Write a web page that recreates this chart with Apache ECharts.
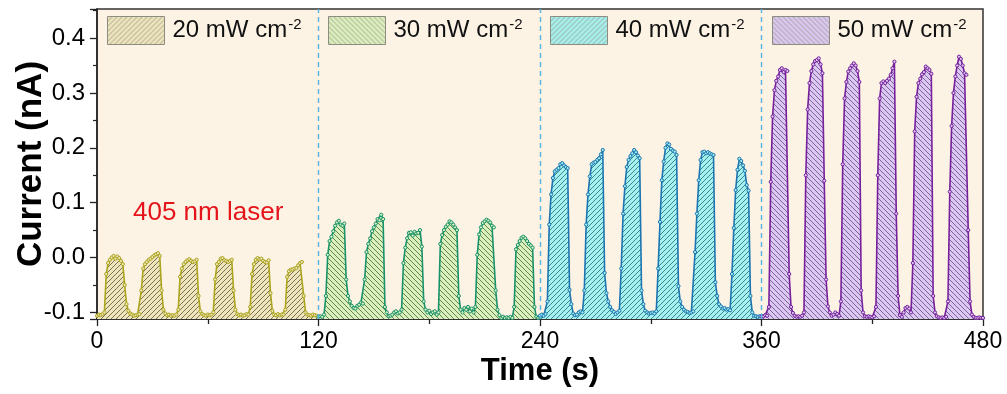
<!DOCTYPE html>
<html><head><meta charset="utf-8">
<script src="https://cdn.jsdelivr.net/npm/echarts@6/dist/echarts.min.js"></script>
<style>html,body{margin:0;padding:0;background:#fff}#c{width:1007px;height:394px}</style>
</head><body><div id="c"></div>
<script>
// ---- data ----
const seriesNames = ['20 mW cm-2', '30 mW cm-2', '40 mW cm-2', '50 mW cm-2'];
const startTimes = [0, 120, 240, 360];   // s, each segment sampled every 1 s
const sampleStep = 1;
const xTickValues = [0, 120, 240, 360, 480];
const yTickLabels = ['-0.1', '0.0', '0.1', '0.2', '0.3', '0.4'];
const dividerTimes = [120, 240, 360];
const annotationText = '405 nm laser';

const current20 = [
 -0.106,-0.104,-0.105,-0.103,-0.100,-0.030,-0.010,-0.004,0.000,0.003,
 -0.002,0.002,-0.001,-0.006,-0.012,-0.050,-0.085,-0.097,-0.102,-0.104,
 -0.106,-0.105,-0.104,-0.103,-0.060,-0.020,-0.012,-0.008,-0.004,-0.002,
 0.001,0.004,0.006,0.008,0.003,-0.060,-0.095,-0.102,-0.105,-0.104,
 -0.106,-0.105,-0.106,-0.104,-0.095,-0.035,-0.020,-0.012,-0.008,-0.005,
 -0.003,-0.006,-0.008,-0.007,-0.004,-0.070,-0.098,-0.103,-0.105,-0.106,
 -0.104,-0.105,-0.104,-0.100,-0.040,-0.012,-0.008,-0.002,-0.001,-0.005,
 -0.006,-0.008,-0.006,-0.004,-0.060,-0.095,-0.103,-0.105,-0.104,-0.106,
 -0.105,-0.103,-0.104,-0.090,-0.030,-0.012,-0.004,-0.001,-0.003,-0.002,
 -0.006,-0.008,-0.009,-0.005,-0.065,-0.097,-0.104,-0.105,-0.103,-0.105,
 -0.104,-0.104,-0.095,-0.035,-0.025,-0.022,-0.022,-0.020,-0.019,-0.014,
 -0.010,-0.008,-0.070,-0.100,-0.104,-0.105,-0.106,-0.104,-0.105,-0.106,
 -0.107
];
const current30 = [
 -0.108,-0.107,-0.108,-0.104,-0.070,0.005,0.030,0.038,0.048,0.058,
 0.064,0.067,0.060,0.058,0.062,-0.040,-0.070,-0.080,-0.088,-0.092,
 -0.093,-0.088,-0.086,-0.082,-0.084,-0.040,0.010,0.025,0.035,0.048,
 0.055,0.062,0.070,0.068,0.078,0.070,-0.090,-0.100,-0.107,-0.106,
 -0.104,-0.100,-0.098,-0.102,-0.100,-0.095,-0.010,0.018,0.035,0.045,
 0.046,0.040,0.047,0.044,0.045,0.050,0.020,-0.080,-0.095,-0.100,
 -0.097,-0.103,-0.100,-0.098,-0.104,-0.100,0.025,0.041,0.050,0.056,
 0.060,0.066,0.064,0.060,0.055,0.050,-0.070,-0.095,-0.100,-0.092,
 -0.095,-0.090,-0.098,-0.093,-0.100,-0.090,0.005,0.042,0.055,0.063,
 0.066,0.069,0.067,0.064,0.058,0.055,-0.060,-0.095,-0.105,-0.110,
 -0.108,-0.110,-0.109,-0.110,-0.108,-0.110,-0.090,0.015,0.023,0.030,
 0.036,0.038,0.035,0.030,0.025,0.022,0.018,-0.090,-0.108,-0.110,
 -0.109
];
const current40 = [
 -0.106,-0.104,-0.106,-0.103,-0.080,0.060,0.115,0.145,0.157,0.160,
 0.163,0.170,0.172,0.168,0.165,0.163,-0.059,-0.085,-0.102,-0.105,
 -0.104,-0.100,-0.098,-0.100,-0.060,0.060,0.115,0.148,0.170,0.173,
 0.174,0.178,0.181,0.188,0.196,-0.028,-0.065,-0.080,-0.090,-0.096,
 -0.099,-0.103,-0.100,-0.097,-0.020,0.080,0.130,0.165,0.178,0.185,
 0.190,0.196,0.192,0.186,0.181,-0.060,-0.085,-0.097,-0.100,-0.102,
 -0.101,-0.100,-0.102,-0.098,-0.020,0.065,0.141,0.175,0.200,0.208,
 0.206,0.198,0.195,0.193,0.187,-0.052,-0.080,-0.090,-0.095,-0.098,
 -0.099,-0.101,-0.100,-0.098,0.010,0.080,0.141,0.178,0.192,0.193,
 0.190,0.192,0.190,0.188,0.187,-0.045,-0.070,-0.085,-0.089,-0.093,
 -0.092,-0.095,-0.094,-0.096,-0.030,0.054,0.123,0.160,0.180,0.176,
 0.168,0.158,0.132,0.122,-0.070,-0.100,-0.106,-0.107,-0.108,-0.107,
 -0.106
];
const current50 = [
 -0.108,-0.107,-0.105,-0.106,-0.090,0.138,0.257,0.305,0.322,0.330,
 0.342,0.345,0.338,0.342,0.340,-0.030,-0.090,-0.101,-0.106,-0.108,
 -0.107,-0.108,-0.106,-0.100,0.150,0.270,0.318,0.340,0.352,0.358,
 0.360,0.363,0.352,0.336,0.140,-0.040,-0.089,-0.100,-0.106,-0.104,
 -0.100,-0.103,-0.106,-0.080,0.170,0.290,0.320,0.339,0.345,0.350,
 0.354,0.350,0.340,0.320,-0.060,-0.100,-0.107,-0.108,-0.107,-0.108,
 -0.109,-0.107,-0.090,0.150,0.290,0.318,0.321,0.318,0.322,0.326,
 0.333,0.345,0.357,0.080,-0.070,-0.105,-0.108,-0.100,-0.092,-0.090,
 -0.093,-0.100,-0.010,0.230,0.293,0.318,0.326,0.334,0.338,0.348,
 0.345,0.342,0.335,-0.070,-0.100,-0.107,-0.109,-0.110,-0.109,-0.110,
 -0.108,-0.080,0.120,0.240,0.300,0.330,0.350,0.366,0.362,0.350,
 0.336,0.333,0.050,-0.080,-0.104,-0.108,-0.110,-0.110,-0.109,-0.110,
 -0.110
];
const currents = [current20, current30, current40, current50];

// ---- styles ----
const lineColors = ['#ABA51C', '#17926A', '#1C74B0', '#76209C'];
const fillColors = ['#EFE5BC', '#DCF0BE', '#A6F1EF', '#DBC7F1'];
const hatchColors = ['#6E6446', '#4F7A43', '#2B7C86', '#6F5A8F'];
const hatchDirs = [1, -1, 1, -1];
const legendLefts = [107, 328, 550, 772];

function hatch(bg, fg, dir) {
  const s = 5, c = document.createElement('canvas');
  c.width = s; c.height = s;
  const g = c.getContext('2d');
  g.fillStyle = bg; g.fillRect(0, 0, s, s);
  g.strokeStyle = fg; g.lineWidth = 0.9; g.beginPath();
  for (let k = -1; k <= 1; k++) {
    if (dir > 0) { g.moveTo(k * s, s); g.lineTo(k * s + s, 0); }
    else { g.moveTo(k * s, 0); g.lineTo(k * s + s, s); }
  }
  g.stroke();
  return { image: c, repeat: 'repeat' };
}
const patterns = fillColors.map((f, i) => hatch(f, hatchColors[i], hatchDirs[i]));
const legendPatterns = fillColors.map((f, i) => hatch(f, '#9a9a86', hatchDirs[i]));

const chart = echarts.init(document.getElementById('c'), null, { renderer: 'canvas' });

const series = seriesNames.map((name, i) => ({
  name,
  type: 'line',
  data: currents[i].map((v, k) => [startTimes[i] + k * sampleStep, v]),
  symbol: 'circle',
  symbolSize: 3.2,
  showAllSymbol: true,
  itemStyle: { color: fillColors[i], borderColor: lineColors[i], borderWidth: 1 },
  lineStyle: { color: lineColors[i], width: 1.6 },
  areaStyle: { color: patterns[i], origin: 'start', opacity: 1 },
  z: 3,
  animation: false,
  markLine: i === 0 ? {
    silent: true, symbol: ['none', 'none'], animation: false,
    label: { show: false },
    lineStyle: { color: '#56B4E6', type: [5, 4], width: 1.4 },
    data: dividerTimes.map(t => ({ xAxis: t }))
  } : undefined
}));

const legends = seriesNames.map((name, i) => ({
  data: [{ name, itemStyle: { color: legendPatterns[i], borderColor: '#8c8c80', borderWidth: 1 } }],
  left: legendLefts[i], top: 16, padding: 0,
  icon: 'rect', itemWidth: 57, itemHeight: 28,
  selectedMode: false,
  formatter: n => { const j = n.lastIndexOf('-'); return '{b|' + n.slice(0, j) + '}{s|' + n.slice(j) + '}'; },
  textStyle: {
    rich: {
      b: { fontSize: 24, fontFamily: 'Liberation Sans', color: '#111', padding: [0, 0, 0, 3] },
      s: { fontSize: 15, fontFamily: 'Liberation Sans', color: '#111', verticalAlign: 'top', padding: [0, 0, 12, 1] }
    }
  }
}));

const option = {
  backgroundColor: '#ffffff',
  animation: false,
  grid: { left: 97, right: 24, top: 9, bottom: 75, containLabel: false, outerBoundsMode: 'none',
          show: true, backgroundColor: '#FCF3E4', borderColor: '#333', borderWidth: 1.5 },
  legend: legends,
  xAxis: {
    type: 'value', min: xTickValues[0], max: xTickValues[xTickValues.length - 1],
    interval: xTickValues[1] - xTickValues[0],
    name: 'Time (s)', nameLocation: 'middle', nameGap: 37, nameMoveOverlap: false,
    nameTextStyle: { fontFamily: 'Liberation Sans', fontWeight: 'bold', fontSize: 31, color: '#000' },
    axisLine: { onZero: false, lineStyle: { color: '#222', width: 1.5 } },
    axisTick: { show: true, inside: false, length: 7, lineStyle: { color: '#222', width: 1.3 } },
    minorTick: { show: true, splitNumber: 2, length: 5, lineStyle: { color: '#222', width: 1.3 } },
    splitLine: { show: false },
    axisLabel: { fontFamily: 'Liberation Sans', fontSize: 23, color: '#000', margin: 11 }
  },
  yAxis: {
    type: 'value', min: -0.112, max: 0.453, splitNumber: 5,
    name: 'Current (nA)', nameLocation: 'middle', nameGap: 48, nameMoveOverlap: false,
    nameTextStyle: { fontFamily: 'Liberation Sans', fontWeight: 'bold', fontSize: 35, color: '#000' },
    axisLine: { show: true, onZero: false, lineStyle: { color: '#222', width: 1.5 } },
    axisTick: { show: true, inside: false, length: 7, lineStyle: { color: '#222', width: 1.3 } },
    minorTick: { show: true, splitNumber: 2, length: 4, lineStyle: { color: '#222', width: 1.2 } },
    splitLine: { show: false },
    axisLabel: {
      fontFamily: 'Liberation Sans', fontSize: 24, color: '#000', margin: 12,
      showMinLabel: false, showMaxLabel: false,
      formatter: v => { const s = v.toFixed(1); return (Math.abs(v * 10 - Math.round(v * 10)) < 1e-6 && yTickLabels.includes(s)) ? s : ''; }
    }
  },
  graphic: [{
    type: 'text', left: 133, top: 200, silent: true,
    style: { text: annotationText, fill: '#E5141B', font: '26px "Liberation Sans"' }
  }],
  series
};
chart.setOption(option);
</script></body></html>
